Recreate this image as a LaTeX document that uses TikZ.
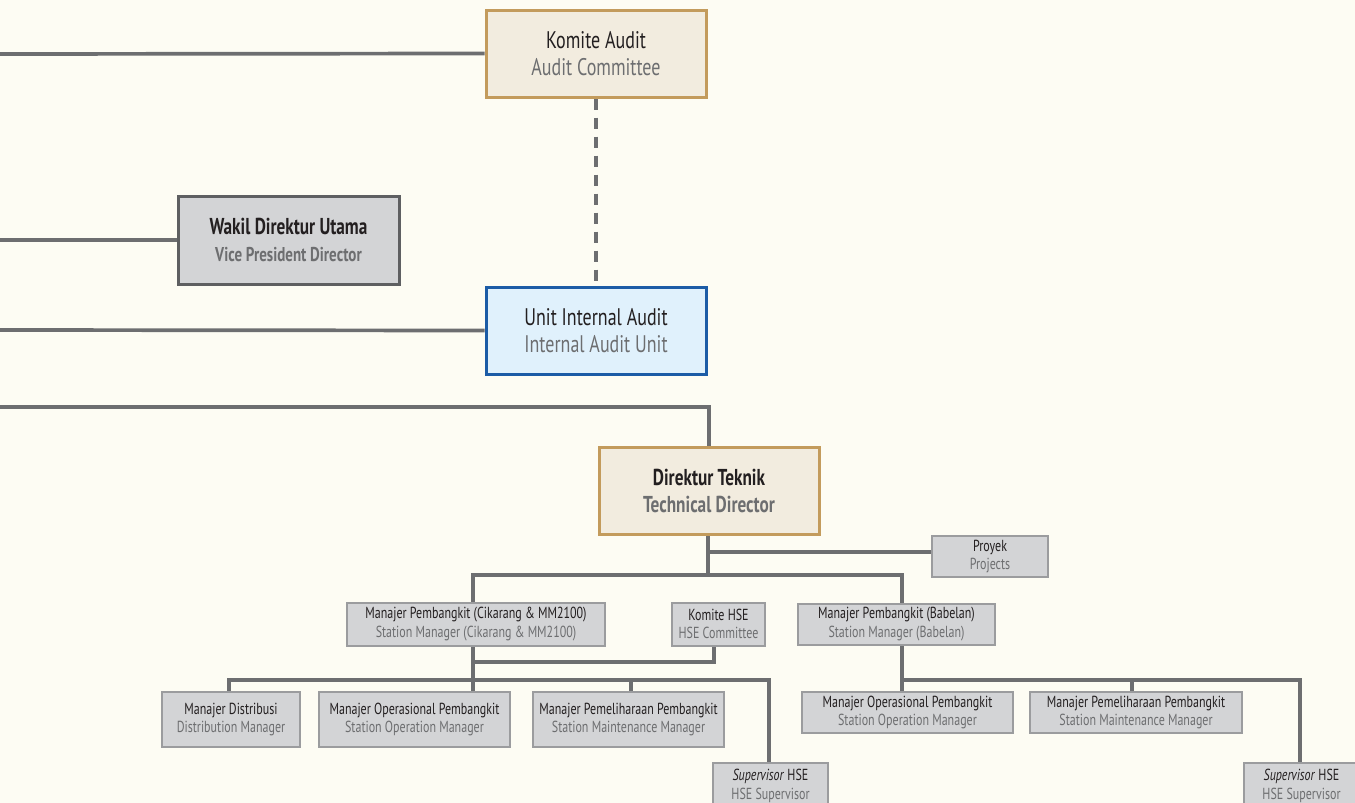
\documentclass[tikz,border=0pt]{standalone}
\usepackage{fontspec}
\setmainfont{PT Sans}[FakeStretch=0.75]
\usetikzlibrary{backgrounds}
\definecolor{bgc}{HTML}{FDFCF3}
\definecolor{conc}{HTML}{6D6E70}
\definecolor{tan}{HTML}{C39B5C}
\definecolor{tanfill}{HTML}{F2ECDF}
\definecolor{grayfill}{HTML}{D3D4D6}
\definecolor{darkedge}{HTML}{5E5F61}
\definecolor{lightedge}{HTML}{9B9C9E}
\definecolor{bluefill}{HTML}{E0F1FC}
\definecolor{blueedge}{HTML}{1C5CA6}
\definecolor{maintext}{HTML}{231F20}
\definecolor{subtext}{HTML}{6D6E70}
\tikzset{
  conn/.style={draw=conc, line width=3.7pt},
  dashconn/.style={draw=conc, line width=3.7pt, dash pattern=on 11pt off 8pt},
  boxbase/.style={rectangle, inner sep=0pt, align=center, text=maintext},
  bigbox/.style={boxbase, line width=3pt, font=\fontsize{24}{27.5}\selectfont},
  boldbig/.style={font=\fontsize{23}{27}\selectfont},
  tanbox/.style={bigbox, draw=tan, fill=tanfill},
  graybig/.style={bigbox, draw=darkedge, fill=grayfill},
  bluebox/.style={bigbox, draw=blueedge, fill=bluefill},
  smallbox/.style={boxbase, line width=2pt, draw=lightedge, fill=grayfill, font=\fontsize{16}{18.5}\selectfont},
}
\newcommand{\sub}[1]{\textcolor{subtext}{#1}}
\begin{document}
\begin{tikzpicture}[x=1pt,y=-1pt]
\useasboundingbox (0,0) rectangle (1355,803);
\clip (0,0) rectangle (1355,803);

% top nodes
\node[tanbox, minimum width=220, minimum height=87] (ka) at (596,53.5) {Komite Audit\\\sub{Audit Committee}};
\node[graybig, boldbig, minimum width=221, minimum height=88] (wdu) at (288.5,240) {\textbf{Wakil Direktur Utama}\\\sub{\fontsize{20}{24}\selectfont\textbf{Vice President Director}}};
\node[bluebox, minimum width=220, minimum height=87] (uia) at (596,330.5) {Unit Internal Audit\\\sub{Internal Audit Unit}};
\node[tanbox, boldbig, minimum width=220, minimum height=87] (dt) at (709,490.5) {\textbf{Direktur Teknik}\\\sub{\textbf{Technical Director}}};

% second level
\node[smallbox, minimum width=116, minimum height=41] (pr) at (990,556.5) {Proyek\\\sub{Projects}};
\node[smallbox, minimum width=258, minimum height=43] (mpc) at (476,624) {Manajer Pembangkit (Cikarang \& MM2100)\\\sub{Station Manager (Cikarang \& MM2100)}};
\node[smallbox, minimum width=93, minimum height=43] (khse) at (718.5,624) {Komite HSE\\\sub{HSE Committee}};
\node[smallbox, minimum width=197, minimum height=41] (mpb) at (896.5,624) {Manajer Pembangkit (Babelan)\\\sub{Station Manager (Babelan)}};

% third level, Cikarang
\node[smallbox, minimum width=138, minimum height=55] (md) at (231,719.5) {Manajer Distribusi\\\sub{Distribution Manager}};
\node[smallbox, minimum width=191, minimum height=55] (mo) at (414.5,719.5) {Manajer Operasional Pembangkit\\\sub{Station Operation Manager}};
\node[smallbox, minimum width=191, minimum height=55] (mp) at (628.5,719.5) {Manajer Pemeliharaan Pembangkit\\\sub{Station Maintenance Manager}};
\node[smallbox, minimum width=115, minimum height=46, anchor=north] (sh1) at (770.5,762) {\textit{Supervisor} HSE\\\sub{HSE Supervisor}};

% third level, Babelan
\node[smallbox, minimum width=211, minimum height=41] (mob) at (907.5,712.5) {Manajer Operasional Pembangkit\\\sub{Station Operation Manager}};
\node[smallbox, minimum width=212, minimum height=41] (mpb2) at (1136,712.5) {Manajer Pemeliharaan Pembangkit\\\sub{Station Maintenance Manager}};
\node[smallbox, minimum width=115, minimum height=46, anchor=north] (sh2) at (1301.5,762) {\textit{Supervisor} HSE\\\sub{HSE Supervisor}};

% free ends and junctions
\coordinate (l1) at (0,54);
\coordinate (l2) at (0,240);
\coordinate (l3) at (0,330);
\coordinate (l4) at (0,407);
\coordinate (j1) at (708,575);
\coordinate (dtp) at (708,552);
\coordinate (cv) at (473,575);
\coordinate (bv) at (902,575);
\coordinate (ch) at (473,662);
\coordinate (kh) at (714,662);
\coordinate (cb) at (473,680);
\coordinate (cd) at (229,680);
\coordinate (cm) at (631,680);
\coordinate (cs) at (769,680);
\coordinate (bb) at (902,680);
\coordinate (bm) at (1132,680);
\coordinate (bs) at (1300,680);

% connectors
\begin{pgfonlayer}{background}
\fill[bgc] (0,0) rectangle (1355,803);
\draw[conn] (l1) -- (ka.west);
\draw[conn] (l2) -- (wdu.west);
\draw[conn] (l3) -- (uia.west);
\draw[conn] (l4) -| (dt.north);
\draw[dashconn] (ka.south) -- (uia.north);
\draw[conn] (dt.south -| j1) -- (j1);
\draw[conn] (dtp) -- (dtp -| pr.west);
\draw[conn] (cv |- mpc.north) -- (cv) -- (bv) -- (bv |- mpb.north);
\draw[conn] (cv |- mpc.south) -- (cb);
\draw[conn] (ch) -- (kh) -- (kh |- khse.south);
\draw[conn] (cd |- md.north) -- (cd) -- (cs) -- (cs |- sh1.north);
\draw[conn] (cb) -- (cb |- mo.north);
\draw[conn] (cm) -- (cm |- mp.north);
\draw[conn] (bb |- mpb.south) -- (bb) -- (bs) -- (bs |- sh2.north);
\draw[conn] (bb) -- (bb |- mob.north);
\draw[conn] (bm) -- (bm |- mpb2.north);
\end{pgfonlayer}
\end{tikzpicture}
\end{document}
